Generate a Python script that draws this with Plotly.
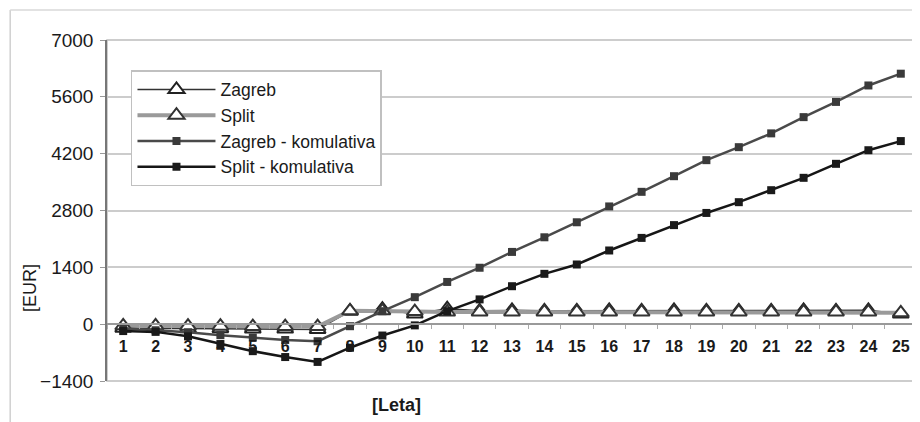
import plotly.graph_objects as go

years = [str(i) for i in range(1, 26)]

zagreb = [-100, -100, -110, -110, -120, -120, -130, 320, 370, 250, 380, 330, 340, 330,
          330, 340, 330, 340, 330, 330, 330, 340, 330, 340, 250]
split = [-40, -40, -50, -50, -60, -60, -60, 330, 330, 310, 300, 300, 300, 300,
         300, 300, 300, 300, 300, 300, 300, 300, 300, 300, 280]
zagreb_kum = [-100, -150, -200, -270, -330, -390, -420, -50, 320, 665, 1040, 1390, 1780,
              2140, 2510, 2900, 3260, 3645, 4040, 4360, 4700, 5100, 5475, 5880, 6170]
split_kum = [-170, -190, -300, -490, -665, -810, -930, -580, -280, -30, 320, 610, 935,
             1240, 1470, 1815, 2125, 2440, 2740, 3005, 3300, 3605, 3950, 4285, 4510]

y_ticks = [-1400, 0, 1400, 2800, 4200, 5600, 7000]

FONT = "Liberation Sans, Arial, sans-serif"

fig = go.Figure()
fig.add_trace(go.Scatter(
    x=years, y=zagreb, name="Zagreb", mode="lines+markers",
    line=dict(color="#333333", width=1.5),
    marker=dict(symbol="triangle-up", size=14, color="white",
                line=dict(color="#222222", width=2))))
fig.add_trace(go.Scatter(
    x=years, y=split, name="Split", mode="lines+markers",
    line=dict(color="#9a9a9a", width=4),
    marker=dict(symbol="triangle-up", size=14, color="white",
                line=dict(color="#333333", width=2))))
fig.add_trace(go.Scatter(
    x=years, y=zagreb_kum, name="Zagreb - komulativa", mode="lines+markers",
    line=dict(color="#4a4a4a", width=2.5),
    marker=dict(symbol="square", size=8, color="#3a3a3a")))
fig.add_trace(go.Scatter(
    x=years, y=split_kum, name="Split - komulativa", mode="lines+markers",
    line=dict(color="#161616", width=2.5),
    marker=dict(symbol="square", size=8, color="#1a1a1a")))

# page body has an 8px margin, so the figure is made 8px smaller on each axis
fig.update_layout(
    width=912, height=414,
    margin=dict(l=99, r=3, t=32, b=41),
    paper_bgcolor="white", plot_bgcolor="white",
    font=dict(family=FONT, color="#1a1a1a"),
    showlegend=True,
    legend=dict(x=0.0296, y=0.912, xanchor="left", yanchor="top",
                bgcolor="white", bordercolor="#c0c0c0", borderwidth=1.5,
                font=dict(size=17.5, family=FONT, color="#1a1a1a"),
                itemwidth=78),
    xaxis=dict(type="category", range=[-0.5, 24.5], autorange=False,
               anchor="free", position=1400 / 8400,
               showgrid=False, showline=True, linecolor="#9a9a9a", linewidth=1.5,
               ticks="outside", tickson="boundaries", ticklen=4, tickcolor="#aaaaaa",
               ticklabelstandoff=8,
               tickfont=dict(size=16, family=FONT, color="#1a1a1a", weight="bold")),
    yaxis=dict(range=[-1400, 7000], autorange=False, tickvals=y_ticks,
               showgrid=True, gridcolor="#cccccc", gridwidth=1.5, zeroline=False,
               showline=True, linecolor="#777777", linewidth=1.5,
               ticks="outside", ticklen=5, tickcolor="#999999",
               ticklabelstandoff=3,
               tickfont=dict(size=19, family=FONT, color="#1a1a1a")),
    annotations=[
        dict(text="[EUR]", x=-0.095, y=0.2727, xref="paper", yref="paper",
             xanchor="center", yanchor="middle",
             textangle=-90, showarrow=False, font=dict(size=18, family=FONT)),
        dict(text="<b>[Leta]</b>", x=0.358, y=-0.0704, xref="paper", yref="paper",
             xanchor="center", yanchor="middle",
             showarrow=False, font=dict(size=18, family=FONT)),
    ],
    shapes=[
        dict(type="rect", xref="paper", yref="paper", x0=0, x1=1, y0=0, y1=1,
             line=dict(color="#bdbdbd", width=1.5), layer="below"),
        dict(type="line", xref="paper", yref="paper", x0=-0.1195, x1=-0.1195,
             y0=-0.12, y1=1.088, line=dict(color="#d0d0d0", width=1.5)),
        dict(type="line", xref="paper", yref="paper", x0=-0.1195, x1=1.0037,
             y0=1.088, y1=1.088, line=dict(color="#d8d8d8", width=1.5)),
    ],
)

fig.write_html("out.html")
